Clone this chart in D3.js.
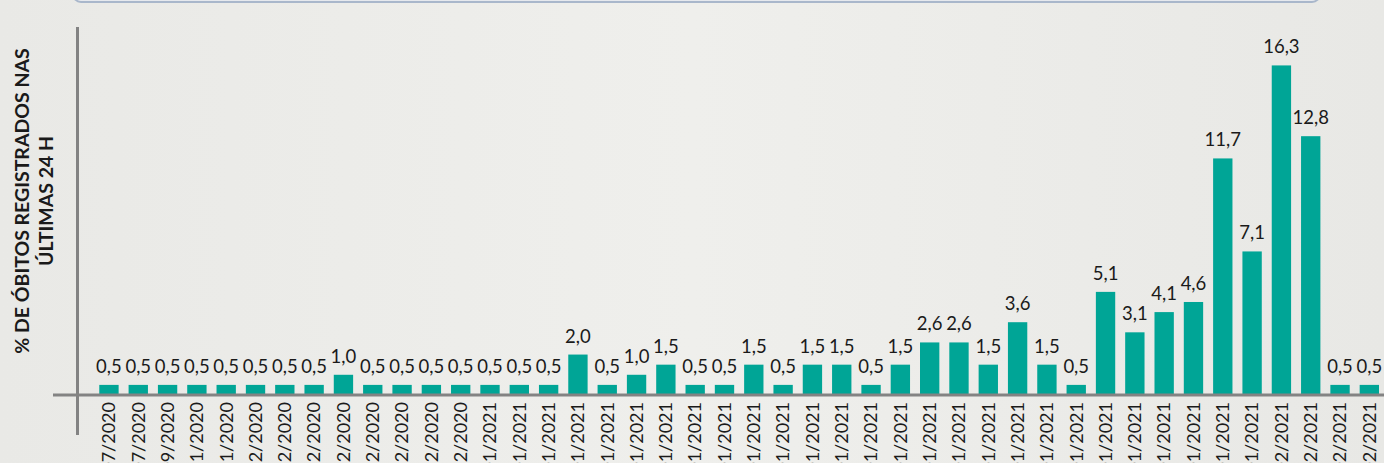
<!DOCTYPE html>
<html>
<head>
<meta charset="utf-8">
<script src="https://cdn.jsdelivr.net/npm/d3@7"></script>
<style>
  body { margin: 0; background: #ecece9; }
  svg { display: block; }
</style>
</head>
<body>
<div id="chart"></div>
<script>
// Chart size
var svgWidth = 1384;
var svgHeight = 463;

// dates (only the end of each label is visible in the original)
var dates = [
  "07/2020", "07/2020", "09/2020", "11/2020", "11/2020",
  "12/2020", "12/2020", "12/2020", "12/2020", "12/2020", "12/2020", "12/2020", "12/2020",
  "01/2021", "01/2021", "01/2021", "01/2021", "01/2021", "01/2021", "01/2021", "01/2021",
  "01/2021", "01/2021", "01/2021", "01/2021", "01/2021", "01/2021", "01/2021", "01/2021",
  "01/2021", "01/2021", "01/2021", "01/2021", "01/2021", "01/2021", "01/2021", "01/2021",
  "01/2021", "01/2021", "01/2021",
  "02/2021", "02/2021", "02/2021", "02/2021"
];

// % de obitos registrados nas ultimas 24 h
var values = [
  0.5, 0.5, 0.5, 0.5, 0.5, 0.5, 0.5, 0.5, 1.0,
  0.5, 0.5, 0.5, 0.5, 0.5, 0.5, 0.5, 2.0,
  0.5, 1.0, 1.5, 0.5, 0.5, 1.5, 0.5, 1.5, 1.5, 0.5, 1.5,
  2.6, 2.6, 1.5, 3.6, 1.5, 0.5, 5.1, 3.1, 4.1, 4.6,
  11.7, 7.1, 16.3, 12.8, 0.5, 0.5
];

var yTitle = ["% DE ÓBITOS REGISTRADOS NAS", "ÚLTIMAS 24 H"];

var data = values.map(function(v, i) {
  return { idx: i, date: dates[i], value: v };
});

var svg = d3.select("#chart")
  .append("svg")
  .attr("width", svgWidth)
  .attr("height", svgHeight);

// subtle textured background
var defs = svg.append("defs");
var grad = defs.append("linearGradient").attr("id", "bg").attr("x1", 0).attr("x2", 1);
grad.append("stop").attr("offset", "0%").attr("stop-color", "#e9e9e6");
grad.append("stop").attr("offset", "50%").attr("stop-color", "#efefec");
grad.append("stop").attr("offset", "100%").attr("stop-color", "#e8e8e5");
svg.append("rect")
  .attr("width", svgWidth)
  .attr("height", svgHeight)
  .attr("fill", "url(#bg)");

// box cut off at the top
svg.append("rect")
  .attr("x", 73)
  .attr("y", -30)
  .attr("width", 1247)
  .attr("height", 32)
  .attr("rx", 8)
  .attr("fill", "#e6e9ee")
  .attr("stroke", "#a9b7cb")
  .attr("stroke-width", 2);

var baseY = 395;

var x = d3.scaleBand()
  .domain(data.map(d => d.idx))
  .range([94.3, 1384])
  .paddingInner(0.34)
  .paddingOuter(0.17);

var y = d3.scaleLinear()
  .domain([0, 18.2])
  .range([baseY, 27]);

// bars
svg.selectAll(".bar")
  .data(data)
  .enter()
  .append("rect")
  .attr("class", "bar")
  .attr("x", d => x(d.idx))
  .attr("y", d => y(d.value))
  .attr("width", x.bandwidth())
  .attr("height", d => baseY - y(d.value))
  .attr("fill", "#00a596");

// value labels
var fmt = v => v.toFixed(1).replace(".", ",");
svg.selectAll(".label")
  .data(data)
  .enter()
  .append("text")
  .attr("class", "label")
  .attr("x", d => x(d.idx) + x.bandwidth() / 2)
  .attr("y", d => y(d.value) - 12)
  .attr("text-anchor", "middle")
  .attr("font-family", "Lato, 'Open Sans', sans-serif")
  .attr("font-size", "18.5px")
  .attr("fill", "#1a1a1a")
  .text(d => fmt(d.value));

// x axis
var bottomAxis = d3.axisBottom(x)
  .tickSize(0)
  .tickFormat(i => dates[i]);

var xAxis = svg.append("g")
  .attr("transform", `translate(0, ${baseY})`)
  .call(bottomAxis);
xAxis.select(".domain").remove();
xAxis.selectAll("text")
  .attr("transform", "rotate(-90)")
  .attr("x", -7)
  .attr("y", 0)
  .attr("dy", "0.35em")
  .attr("text-anchor", "end")
  .attr("font-family", "Lato, 'Open Sans', sans-serif")
  .attr("font-size", "18px")
  .attr("fill", "#1a1a1a");

// axis lines
svg.append("line")
  .attr("x1", 53).attr("x2", svgWidth)
  .attr("y1", baseY).attr("y2", baseY)
  .attr("stroke", "#838383")
  .attr("stroke-width", 3);

svg.append("line")
  .attr("x1", 77.5).attr("x2", 77.5)
  .attr("y1", 27).attr("y2", 435)
  .attr("stroke", "#838383")
  .attr("stroke-width", 3);

// y title
var title = svg.append("text")
  .attr("transform", "translate(29, 201) rotate(-90)")
  .attr("text-anchor", "middle")
  .attr("font-family", "Lato, 'Open Sans', sans-serif")
  .attr("font-weight", "bold")
  .attr("font-size", "19.5px")
  .attr("fill", "#1a1a1a");

title.selectAll("tspan")
  .data(yTitle)
  .enter()
  .append("tspan")
  .attr("x", 0)
  .attr("dy", (d, i) => i === 0 ? 0 : 24)
  .text(d => d);
</script>
</body>
</html>
